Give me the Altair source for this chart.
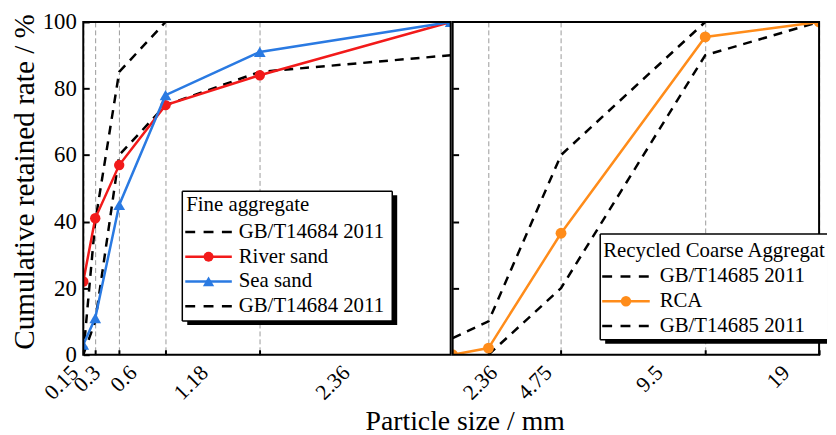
import altair as alt
import pandas as pd

# ---------------- data ----------------
fine_sizes = [0.15, 0.3, 0.6, 1.18, 2.36, 4.75]
river_sand = [22, 41, 57, 75, 84, 100]
sea_sand = [3, 11, 45, 78, 91, 100]
fine_upper_sizes = [0.15, 0.3, 0.6, 1.18]
fine_upper = [0, 40, 85, 100]
fine_lower_sizes = [0.15, 0.3, 0.6, 1.18, 2.36, 4.75]
fine_lower = [0, 10, 60, 75, 85, 90]

coarse_sizes = [1.18, 2.36, 4.75, 9.5, 19]
rca = [0, 2, 36.5, 95.5, 100]
coarse_upper_sizes = [1.18, 2.36, 4.75, 9.5]
coarse_upper = [5, 10, 60, 100]
coarse_lower_sizes = [2.36, 4.75, 9.5, 19]
coarse_lower = [0, 20, 90, 100]

fine_ticks = [0.15, 0.3, 0.6, 1.18, 2.36]
coarse_ticks = [2.36, 4.75, 9.5, 19]
y_ticks = [0, 20, 40, 60, 80, 100]
coarse_y_ticks = [20, 40, 60, 80]

y_title = "Cumulative retained rate / %"
x_title = "Particle size / mm"
fine_legend_title = "Fine aggregate"
fine_legend_labels = ["GB/T14684 2011", "River sand", "Sea sand", "GB/T14684 2011"]
coarse_legend_title = "Recycled Coarse Aggregate"
coarse_legend_labels = ["GB/T14685 2011", "RCA", "GB/T14685 2011"]

# ---------------- style ----------------
FONT = "Liberation Serif"
RED = "#f21a1a"
BLUE = "#2a7ae2"
ORANGE = "#ff8c1a"
DASH = [9, 7]
LEG_DASH = [10, 8.5]
LW = 2.5
W_L, W_R, H = 371, 370, 336


def frame(sizes, values):
    return pd.DataFrame({"size": sizes, "value": values})


def one_row():
    return alt.Chart(pd.DataFrame({"k": [0]}))


def x_data(domain, rng, ticks):
    return alt.X(
        "size:Q",
        scale=alt.Scale(domain=domain, range=rng, nice=False, zero=False),
        axis=alt.Axis(orient="bottom", values=ticks, labels=False, ticks=True,
                      tickSize=5, tickWidth=2, tickColor="black", offset=-5,
                      domain=False, grid=True, gridDash=[5, 3], gridColor="#9a9a9a",
                      gridWidth=1, title=None),
    )


def y_enc(axis):
    return alt.Y("value:Q", scale=alt.Scale(domain=[0, 100], nice=False, zero=False), axis=axis)


def dashed(df, X, Y):
    return alt.Chart(df).mark_line(color="black", strokeDash=DASH, strokeWidth=LW, clip=True).encode(x=X, y=Y)


def solid(df, X, Y, color, shape, size):
    line = alt.Chart(df).mark_line(color=color, strokeWidth=LW, clip=True).encode(x=X, y=Y)
    pts = alt.Chart(df).mark_point(filled=True, opacity=1, color=color, shape=shape,
                                   size=size, clip=True).encode(x=X, y=Y)
    return [line, pts]


def plot_frame(w, h):
    return one_row().mark_rect(fillOpacity=0, stroke="black", strokeWidth=2).encode(
        x=alt.value(0), x2=alt.value(w), y=alt.value(0), y2=alt.value(h))


def label_layer(ticks, rng):
    df = pd.DataFrame({"size": ticks})
    return alt.Chart(df).mark_point(size=0, opacity=0).encode(
        x=alt.X("size:Q",
                scale=alt.Scale(domain=ticks, range=rng, nice=False, zero=False),
                axis=alt.Axis(orient="bottom", values=ticks, labelExpr="datum.value + ''",
                              labelAngle=-45, ticks=False, domain=False, grid=False,
                              labelPadding=7, labelFont=FONT, labelFontSize=22,
                              labelColor="black", labelFlush=False, labelOverlap=False,
                              title=None)),
        y=alt.value(0),
    )


def legend(box, title, title_pos, rows, sym, text_x, right_open=False, limit=None):
    x0, y0, x1, y1 = box
    b = one_row()
    L = []
    sx1 = x1 if right_open else x1 + 5
    L.append(b.mark_rect(color="black").encode(
        x=alt.value(x0 + 5), x2=alt.value(sx1), y=alt.value(y0 + 4), y2=alt.value(y1 + 4)))
    L.append(b.mark_rect(color="white").encode(
        x=alt.value(x0), x2=alt.value(x1), y=alt.value(y0), y2=alt.value(y1)))
    edges = [(x0, x1, y0, y0), (x0, x1, y1, y1), (x0, x0, y0, y1)]
    if not right_open:
        edges.append((x1, x1, y0, y1))
    for ax0, ax1, ay0, ay1 in edges:
        L.append(b.mark_rule(color="black", strokeWidth=1.5).encode(
            x=alt.value(ax0), x2=alt.value(ax1), y=alt.value(ay0), y2=alt.value(ay1)))
    tkw = dict(align="left", baseline="middle", font=FONT, fontSize=21, color="black")
    if limit:
        tkw.update(limit=limit, ellipsis="\u200b")
    L.append(b.mark_text(text=title, **tkw).encode(x=alt.value(title_pos[0]), y=alt.value(title_pos[1])))
    for label, y, color, dash, shape, size in rows:
        kw = dict(color=color, strokeWidth=LW)
        if dash:
            kw["strokeDash"] = dash
        L.append(b.mark_rule(**kw).encode(x=alt.value(sym[0]), x2=alt.value(sym[1]), y=alt.value(y)))
        if shape:
            L.append(b.mark_point(filled=True, opacity=1, color=color, shape=shape, size=size).encode(
                x=alt.value((sym[0] + sym[1]) / 2), y=alt.value(y)))
        L.append(b.mark_text(text=label, align="left", baseline="middle", font=FONT,
                             fontSize=21, color="black").encode(x=alt.value(text_x), y=alt.value(y)))
    return L


# ---------------- left panel (fine aggregate) ----------------
XL = x_data([0.15, 4.75], [0, W_L], fine_ticks)
YL = y_enc(alt.Axis(values=y_ticks, labelFont=FONT, labelFontSize=23, labelColor="black",
                    labelPadding=7, tickSize=6, tickWidth=2, tickColor="black", offset=-6,
                    domain=False, grid=False, labelFlush=False, title=y_title,
                    titleFont=FONT, titleFontSize=29.5, titleFontWeight="normal",
                    titleColor="black", titlePadding=3, titleY=161))

left_layers = [
    dashed(frame(fine_upper_sizes, fine_upper), XL, YL),
    dashed(frame(fine_lower_sizes, fine_lower), XL, YL),
]
left_layers += solid(frame(fine_sizes, river_sand), XL, YL, RED, "circle", 110)
left_layers += solid(frame(fine_sizes, sea_sand), XL, YL, BLUE, "triangle-up", 140)
left_layers.append(plot_frame(W_L, H))
left_layers += legend(
    (100, 171, 312, 302), fine_legend_title, (104, 185),
    [(fine_legend_labels[0], 212, "black", LEG_DASH, None, 0),
     (fine_legend_labels[1], 237, RED, None, "circle", 100),
     (fine_legend_labels[2], 262, BLUE, None, "triangle-up", 130),
     (fine_legend_labels[3], 287, "black", LEG_DASH, None, 0)],
    (103, 150), 157)

left = alt.layer(
    alt.layer(*left_layers),
    label_layer(fine_ticks, [-16, 6, 43, 115, 258]),
).resolve_scale(x="independent").properties(width=W_L, height=H)

# ---------------- right panel (recycled coarse aggregate) ----------------
XR = x_data([1.18, 9.5, 19], [0, 255, W_R], coarse_ticks)
YR = y_enc(alt.Axis(values=coarse_y_ticks, labels=False, tickSize=6, tickWidth=2,
                    tickColor="black", offset=-6, domain=False, grid=False, title=None))

right_layers = [
    dashed(frame(coarse_upper_sizes, coarse_upper), XR, YR),
    dashed(frame(coarse_lower_sizes, coarse_lower), XR, YR),
]
right_layers += solid(frame(coarse_sizes, rca), XR, YR, ORANGE, "circle", 120)
right_layers.append(plot_frame(W_R, H))
right_layers += legend(
    (149, 214, 378, 321), coarse_legend_title, (152, 231),
    [(coarse_legend_labels[0], 257, "black", LEG_DASH, None, 0),
     (coarse_legend_labels[1], 282, ORANGE, None, "circle", 110),
     (coarse_legend_labels[2], 307, "black", LEG_DASH, None, 0)],
    (151, 199), 209, right_open=True, limit=226)

right = alt.layer(
    alt.layer(*right_layers),
    label_layer(coarse_ticks, [34, 89, 201, 329]),
).resolve_scale(x="independent").properties(width=W_R, height=H)

chart = alt.hconcat(left, right, spacing=0).properties(
    title=alt.TitleParams(text=x_title, orient="bottom", anchor="middle", font=FONT,
                          fontSize=28, fontWeight="normal", color="black", offset=5, dx=47),
    padding={"left": 1, "top": 1, "right": 0, "bottom": 0},
    background="white",
).configure_view(strokeWidth=0)

chart.save("out.html", embed_options={"renderer": "svg", "actions": False})
